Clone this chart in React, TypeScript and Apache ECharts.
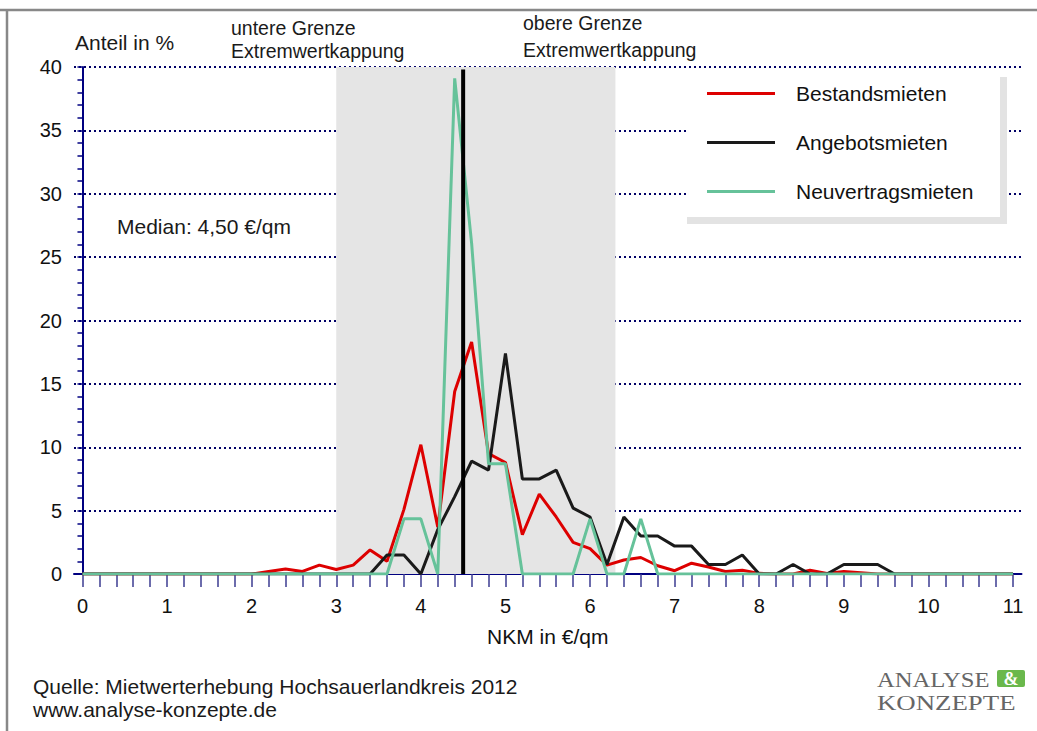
import React, { useEffect, useRef } from "react";
import * as echarts from "echarts";

// x categories (NKM in €/qm), step 0.2
const xCategories = [
  "0", "0.2", "0.4", "0.6", "0.8", "1", "1.2", "1.4", "1.6", "1.8",
  "2", "2.2", "2.4", "2.6", "2.8", "3", "3.2", "3.4", "3.6", "3.8",
  "4", "4.2", "4.4", "4.6", "4.8", "5", "5.2", "5.4", "5.6", "5.8",
  "6", "6.2", "6.4", "6.6", "6.8", "7", "7.2", "7.4", "7.6", "7.8",
  "8", "8.2", "8.4", "8.6", "8.8", "9", "9.2", "9.4", "9.6", "9.8",
  "10", "10.2", "10.4", "10.6", "10.8", "11",
];

const bestandsmieten = [
  0, 0, 0, 0, 0, 0, 0, 0, 0, 0,
  0, 0.2, 0.4, 0.2, 0.7, 0.35, 0.7, 1.9, 1.0, 5.1,
  10.2, 3.7, 14.4, 18.3, 9.5, 8.8, 3.1, 6.3, 4.5, 2.5,
  2.0, 0.7, 1.1, 1.3, 0.65, 0.26, 0.85, 0.55, 0.2, 0.3,
  0.05, 0, 0, 0.3, 0.05, 0.2, 0.1, 0, 0, 0,
  0, 0, 0, 0, 0, 0,
];

const angebotsmieten = [
  0, 0, 0, 0, 0, 0, 0, 0, 0, 0,
  0, 0, 0, 0, 0, 0, 0, 0, 1.5, 1.5,
  0, 3.5, 6.1, 8.9, 8.2, 17.4, 7.5, 7.5, 8.2, 5.2,
  4.5, 0.75, 4.5, 3.0, 3.0, 2.2, 2.2, 0.75, 0.75, 1.5,
  0, 0, 0.75, 0, 0, 0.75, 0.75, 0.75, 0, 0,
  0, 0, 0, 0, 0, 0,
];

const neuvertragsmieten = [
  0, 0, 0, 0, 0, 0, 0, 0, 0, 0,
  0, 0, 0, 0, 0, 0, 0, 0, 0, 4.35,
  4.35, 0, 39.1, 26.1, 8.7, 8.7, 0, 0, 0, 0,
  4.35, 0, 0, 4.35, 0, 0, 0, 0, 0, 0,
  0, 0, 0, 0, 0, 0, 0, 0, 0, 0,
  0, 0, 0, 0, 0, 0,
];

const seriesNames = ["Bestandsmieten", "Angebotsmieten", "Neuvertragsmieten"];
const seriesColors = ["#dd0000", "#1a1a1a", "#66c29a"];

const medianValue = 4.5;
const medianTop = 39.8;
const cappingBand = [3.0, 6.3];

const FONT = "'Liberation Sans', Arial, sans-serif";
const SERIF = "'Liberation Serif', 'Times New Roman', serif";

export default function App() {
  const ref = useRef<HTMLDivElement>(null);

  useEffect(() => {
    if (!ref.current) return;
    const chart = echarts.init(ref.current, null, { renderer: "svg" });
    const txt = (text: string, x: number, y: number, size = 20, extra: any = {}) => ({
      type: "text",
      x,
      y,
      z: 20,
      style: {
        text,
        x: 0,
        y: 0,
        font: `${size}px ${FONT}`,
        fill: "#1a1a1a",
        verticalAlign: "middle",
        align: "left",
        ...extra,
      },
    });

    const option: any = {
      animation: false,
      textStyle: { fontFamily: FONT },
      grid: { left: 74, right: 15.5, top: 67, bottom: 157, containLabel: false, outerBoundsMode: "none" },
      xAxis: [
        {
          type: "category",
          data: xCategories,
          boundaryGap: true,
          axisLine: { show: true, lineStyle: { color: "#000080", width: 2 } },
          axisTick: {
            show: true,
            alignWithLabel: true,
            interval: 0,
            length: 13,
            lineStyle: { color: "#3b3b90", width: 1.5 },
          },
          axisLabel: { interval: 4, margin: 22, fontSize: 20, color: "#111" },
          splitLine: { show: false },
          name: "NKM in €/qm",
          nameLocation: "middle",
          nameGap: 52,
          nameTextStyle: { fontSize: 21, color: "#111" },
        },
        { type: "value", min: -0.1, max: 11.1, show: false },
      ],
      yAxis: {
        type: "value",
        min: 0,
        max: 40,
        interval: 5,
        axisLine: { show: true, lineStyle: { color: "#000080", width: 2 } },
        axisTick: { show: true, length: 5, lineStyle: { color: "#000080", width: 1.5 } },
        minorTick: { show: true, splitNumber: 5, length: 5, lineStyle: { color: "#000080", width: 1.5 } },
        axisLabel: { fontSize: 20, color: "#111", margin: 12 },
        splitLine: { show: true, lineStyle: { color: "#000066", width: 2, type: [2, 3] } },
      },
      legend: {
        data: seriesNames,
        orient: "vertical",
        left: 702,
        top: 78,
        itemWidth: 68,
        itemHeight: 3,
        itemGap: 28,
        icon: "rect",
        z: 30,
        textStyle: { fontSize: 21, color: "#111", lineHeight: 21, padding: [0, 0, 0, 16] },
      },
      graphic: [
        { type: "line", z: 20, shape: { x1: 0, y1: 10, x2: 1037, y2: 10 }, style: { stroke: "#888", lineWidth: 2.5 } },
        { type: "line", z: 20, shape: { x1: 7, y1: 10, x2: 7, y2: 731 }, style: { stroke: "#888", lineWidth: 2.5 } },
        { type: "rect", z: 20, shape: { x: 687, y: 77, width: 320, height: 147 }, style: { fill: "#e3e3e3" } },
        { type: "rect", z: 21, shape: { x: 687, y: 77, width: 313, height: 140 }, style: { fill: "#ffffff" } },
        txt("Anteil in %", 75, 42, 21),
        txt("untere Grenze", 231, 28, 19.5),
        txt("Extremwertkappung", 231, 51, 19.5),
        txt("obere Grenze", 523, 23, 19.5),
        txt("Extremwertkappung", 523, 50, 19.5),
        txt(`Median: ${medianValue.toFixed(2).replace(".", ",")} €/qm`, 117, 226, 21),
        txt("Quelle: Mietwerterhebung Hochsauerlandkreis 2012", 33, 686, 21),
        txt("www.analyse-konzepte.de", 33, 709, 21),
        {
          type: "text",
          x: 877,
          y: 679,
          z: 20,
          scaleX: 1.12,
          style: { text: "ANALYSE", x: 0, y: 0, font: `22px ${SERIF}`, fill: "#666", verticalAlign: "middle" },
        },
        {
          type: "text",
          x: 877,
          y: 702,
          z: 20,
          scaleX: 1.22,
          style: { text: "KONZEPTE", x: 0, y: 0, font: `22px ${SERIF}`, fill: "#666", verticalAlign: "middle" },
        },
        { type: "rect", z: 20, shape: { x: 997, y: 670, width: 28, height: 17, r: 2 }, style: { fill: "#6ab84c" } },
        {
          type: "text",
          x: 1011,
          y: 679,
          z: 21,
          style: { text: "&", x: 0, y: 0, font: `bold 18px ${SERIF}`, fill: "#fff", align: "center", verticalAlign: "middle" },
        },
      ],
      series: [
        {
          name: "band",
          type: "line",
          xAxisIndex: 1,
          data: [],
          z: -1,
          silent: true,
          markArea: {
            silent: true,
            itemStyle: { color: "#e5e5e5" },
            data: [[{ xAxis: cappingBand[0], yAxis: 0 }, { xAxis: cappingBand[1], yAxis: 40 }]],
          },
        },
        ...[bestandsmieten, angebotsmieten, neuvertragsmieten].map((d, i) => ({
          name: seriesNames[i],
          type: "line",
          xAxisIndex: 0,
          data: d,
          symbol: "none",
          color: seriesColors[i],
          lineStyle: { color: seriesColors[i], width: 3 },
          z: 3 + i,
        })),
        {
          name: "Median",
          type: "line",
          xAxisIndex: 1,
          data: [
            [medianValue, 0],
            [medianValue, medianTop],
          ],
          symbol: "none",
          lineStyle: { color: "#000", width: 4 },
          z: 7,
        },
      ],
    };
    chart.setOption(option);
    return () => chart.dispose();
  }, []);

  return (
    <div
      ref={ref}
      style={{ position: "absolute", left: 0, top: 0, width: 1037, height: 731, background: "#fff" }}
    />
  );
}
